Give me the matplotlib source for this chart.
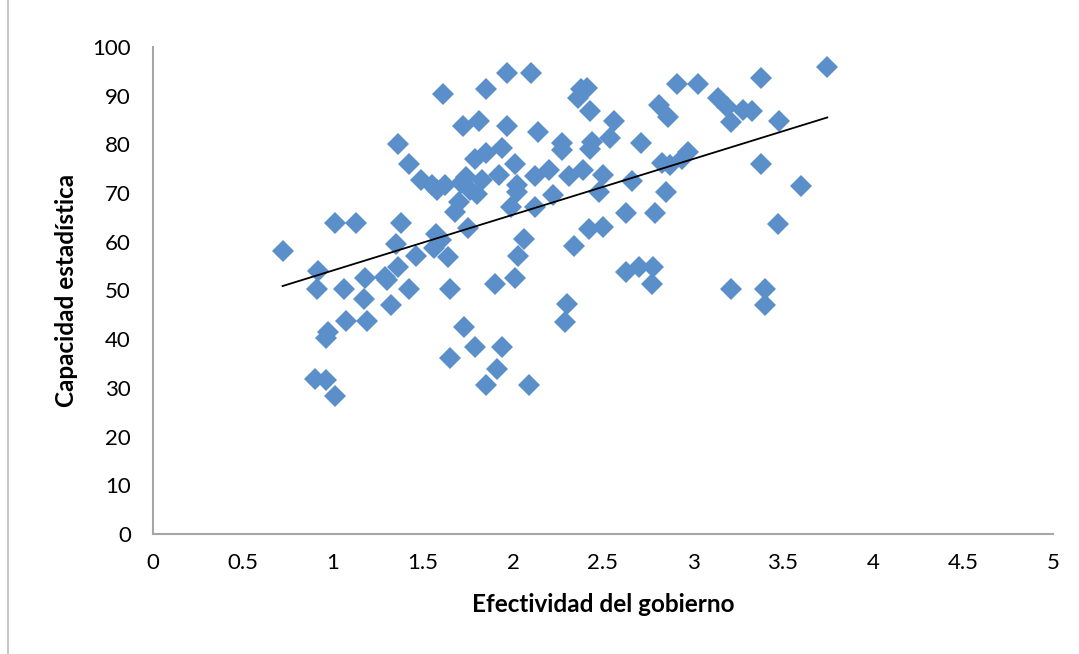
import numpy as np
import matplotlib
matplotlib.use("Agg")
import matplotlib.pyplot as plt
from matplotlib.lines import Line2D

# --- Data ---
efectividad = [
    0.72, 0.915, 0.91, 0.90, 0.96, 0.97, 0.96, 1.01, 1.01, 1.06,
    1.07, 1.13, 1.17, 1.18, 1.19, 1.29, 1.30, 1.32, 1.36, 1.35,
    1.36, 1.38, 1.42, 1.42, 1.46, 1.49, 1.55, 1.57, 1.56, 1.60,
    1.58, 1.61, 1.62, 1.64, 1.65, 1.65, 1.68, 1.70, 1.71, 1.72,
    1.73, 1.74, 1.75, 1.76, 1.79, 1.79, 1.80, 1.81, 1.83, 1.85,
    1.85, 1.85, 1.90, 1.91, 1.92, 1.94, 1.94, 1.965, 1.965, 1.99,
    2.01, 2.02, 2.02, 2.01, 2.03, 2.06, 2.09, 2.10, 2.12, 2.12,
    2.14, 2.20, 2.22, 2.27, 2.27, 2.30, 2.29, 2.31, 2.34, 2.36,
    2.38, 2.41, 2.39, 2.42, 2.43, 2.44, 2.43, 2.48, 2.50, 2.50,
    2.54, 2.56, 2.63, 2.63, 2.66, 2.70, 2.71, 2.77, 2.78, 2.79,
    2.81, 2.83, 2.85, 2.86, 2.87, 2.91, 2.94, 2.97, 3.03, 3.14,
    3.19, 3.21, 3.21, 3.28, 3.33, 3.38, 3.38, 3.40, 3.40, 3.47,
    3.48, 3.60, 3.746,
]
capacidad = [
    58.2, 54.0, 50.4, 31.8, 31.6, 41.5, 40.2, 28.4, 63.8, 50.4,
    43.8, 63.8, 48.3, 52.6, 43.8, 52.7, 52.2, 47.0, 54.8, 59.5,
    80.1, 63.8, 75.9, 50.4, 57.0, 72.7, 71.7, 61.7, 58.7, 60.4,
    70.6, 90.3, 71.7, 56.9, 50.4, 36.1, 66.2, 68.2, 72.0, 83.8,
    42.6, 73.4, 62.8, 70.6, 77.1, 38.3, 69.9, 84.8, 72.6, 91.3,
    78.2, 30.6, 51.4, 33.9, 73.7, 79.2, 38.3, 94.7, 83.8, 67.2,
    76.0, 71.7, 70.3, 52.6, 57.1, 60.6, 30.6, 94.7, 73.5, 67.2,
    82.6, 74.7, 69.6, 80.2, 78.9, 47.2, 43.6, 73.5, 59.2, 89.6,
    91.3, 91.6, 74.7, 62.6, 86.9, 80.4, 79.0, 70.3, 73.7, 63.1,
    81.3, 84.9, 66.0, 53.7, 72.5, 54.9, 80.2, 51.4, 54.9, 66.0,
    88.1, 76.1, 70.3, 85.7, 75.8, 92.5, 77.1, 78.5, 92.5, 89.5,
    87.7, 84.7, 50.4, 87.1, 86.9, 93.6, 75.9, 50.4, 47.0, 63.6,
    84.9, 71.5, 95.8,
]
x_ticks = [0, 0.5, 1, 1.5, 2, 2.5, 3, 3.5, 4, 4.5, 5]
x_tick_labels = ["0", "0.5", "1", "1.5", "2", "2.5", "3", "3.5", "4", "4.5", "5"]
y_ticks = list(range(0, 101, 10))

x = np.array(efectividad)
y = np.array(capacidad)

# --- Linear trend (least squares) ---
slope, intercept = np.polyfit(x, y, 1)
x_fit = np.array([x.min(), x.max()])
y_fit = slope * x_fit + intercept

plt.rcParams["font.family"] = ["Lato", "DejaVu Sans"]

fig = plt.figure(figsize=(10.79, 6.54), dpi=100)
ax = fig.add_axes([153 / 1079, 120 / 654, 900 / 1079, 487 / 654])

ax.plot(x, y, linestyle="none", marker="D", markersize=11,
        color="#5B8FC9", markeredgewidth=0, zorder=3)
ax.plot(x_fit, y_fit, color="black", lw=1.3, zorder=4)

ax.set_xlim(0, 5)
ax.set_ylim(0, 100)
ax.set_xticks(x_ticks)
ax.set_xticklabels(x_tick_labels)
ax.set_yticks(y_ticks)
ax.tick_params(length=0, labelsize=16, colors="black")
ax.tick_params(axis="x", pad=14)
ax.tick_params(axis="y", pad=16)

for side in ["top", "right"]:
    ax.spines[side].set_visible(False)
for side in ["left", "bottom"]:
    ax.spines[side].set_color("#A6A6A6")
    ax.spines[side].set_linewidth(1.5)

ax.set_xlabel("Efectividad del gobierno", fontsize=17.5, fontweight="bold", labelpad=14)
ax.set_ylabel("Capacidad estadística", fontsize=17.5, fontweight="bold", labelpad=10)

# chart border (left edge visible in the reference)
fig.add_artist(Line2D([8 / 1079, 8 / 1079], [0, 1], transform=fig.transFigure,
                      color="#BFBFBF", lw=1.2))

fig.savefig("out.png", dpi=100)
